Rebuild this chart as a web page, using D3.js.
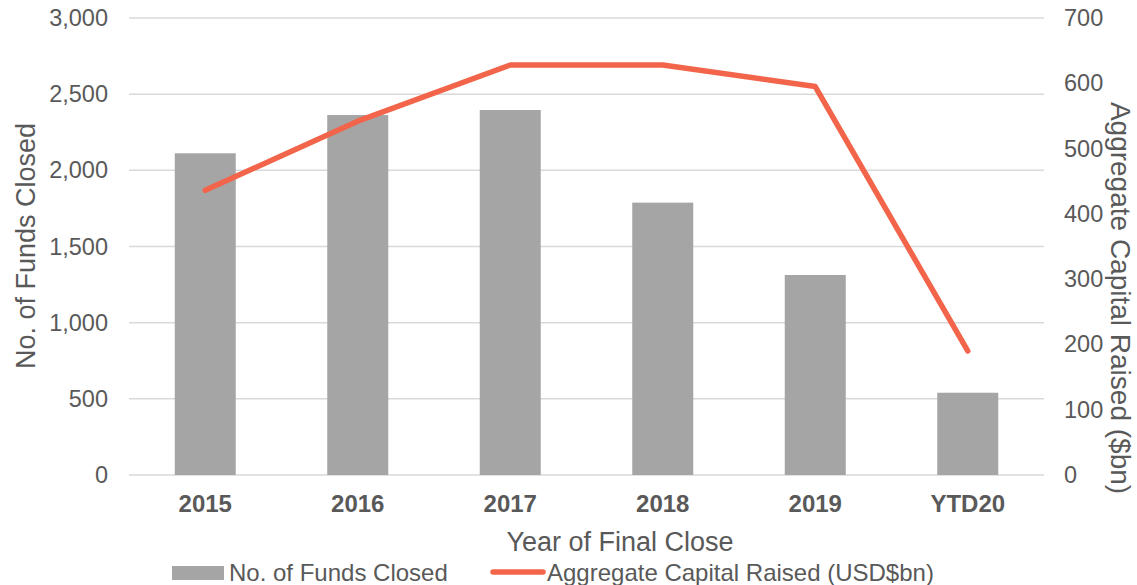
<!DOCTYPE html>
<html><head><meta charset="utf-8">
<script src="https://cdn.jsdelivr.net/npm/d3@7"></script>
<style>
body{margin:0;background:#fff;}
svg{font-family:"Liberation Sans",Arial,sans-serif;}
</style></head>
<body>
<svg id="c" width="1137" height="585"></svg>
<script>
const categories = ["2015","2016","2017","2018","2019","YTD20"];
const fundsClosed = [2112, 2363, 2396, 1788, 1313, 540];
const capitalRaised = [436, 542, 628, 628, 595, 190];
const leftTicks = [0,500,1000,1500,2000,2500,3000];
const rightTicks = [0,100,200,300,400,500,600,700];

const svg = d3.select("#c");
const textColor = "#595959";
const ff = "Liberation Sans, Arial, sans-serif";
const x = d3.scaleBand().domain(categories).range([129,1044]).paddingInner(0.6).paddingOuter(0.3);
const yL = d3.scaleLinear().domain([0,3000]).range([475,18]);
const yR = d3.scaleLinear().domain([0,700]).range([475,18]);

// gridlines
svg.append("g").selectAll("line").data(leftTicks).join("line")
  .attr("x1",129).attr("x2",1044)
  .attr("y1",d=>yL(d)).attr("y2",d=>yL(d))
  .attr("stroke","#D9D9D9").attr("stroke-width",1.5);

// left axis labels
const axL = d3.axisLeft(yL).tickValues(leftTicks).tickFormat(d3.format(",")).tickSize(0).tickPadding(0);
const gL = svg.append("g").attr("transform","translate(108,0)").call(axL);
gL.select(".domain").remove();
gL.selectAll("text").attr("font-size",23.5).attr("fill",textColor).attr("font-family",ff);

// right axis labels
const axR = d3.axisRight(yR).tickValues(rightTicks).tickSize(0).tickPadding(0);
const gR = svg.append("g").attr("transform","translate(1064,0)").call(axR);
gR.select(".domain").remove();
gR.selectAll("text").attr("font-size",23.5).attr("fill",textColor).attr("font-family",ff);

// bars
svg.append("g").selectAll("rect").data(categories).join("rect")
  .attr("x",d=>x(d)).attr("width",x.bandwidth())
  .attr("y",(d,i)=>yL(fundsClosed[i]))
  .attr("height",(d,i)=>yL(0)-yL(fundsClosed[i]))
  .attr("fill","#A5A5A5");

// line
const line = d3.line().x((d,i)=>x(categories[i])+x.bandwidth()/2).y(d=>yR(d));
svg.append("path").datum(capitalRaised).attr("d",line)
  .attr("fill","none").attr("stroke","#F2654A").attr("stroke-width",5.5)
  .attr("stroke-linejoin","round").attr("stroke-linecap","round");

// x axis labels
const axB = d3.axisBottom(x).tickSize(0).tickPadding(0);
const gB = svg.append("g").attr("transform","translate(0,495)").call(axB);
gB.select(".domain").remove();
gB.selectAll("text").attr("font-size",24).attr("font-weight","bold").attr("fill",textColor)
  .attr("font-family",ff).attr("dy","0.71em");

// axis titles
svg.append("text").attr("x",620).attr("y",551).attr("text-anchor","middle")
  .attr("font-size",27).attr("fill",textColor).text("Year of Final Close");
svg.append("text").attr("transform","translate(35,246) rotate(-90)").attr("text-anchor","middle")
  .attr("font-size",27).attr("fill",textColor).text("No. of Funds Closed");
svg.append("text").attr("transform","translate(1111,298) rotate(90)").attr("text-anchor","middle")
  .attr("font-size",28).attr("fill",textColor).text("Aggregate Capital Raised ($bn)");

// legend
const lg = svg.append("g");
lg.append("rect").attr("x",172).attr("y",566).attr("width",52).attr("height",14).attr("fill","#A5A5A5");
lg.append("text").attr("x",229).attr("y",581).attr("font-size",24).attr("fill",textColor).text("No. of Funds Closed");
lg.append("line").attr("x1",493).attr("x2",543).attr("y1",572).attr("y2",572)
  .attr("stroke","#F2654A").attr("stroke-width",5.5).attr("stroke-linecap","round");
lg.append("text").attr("x",547).attr("y",581).attr("font-size",24).attr("fill",textColor).text("Aggregate Capital Raised (USD$bn)");
</script>
</body></html>
